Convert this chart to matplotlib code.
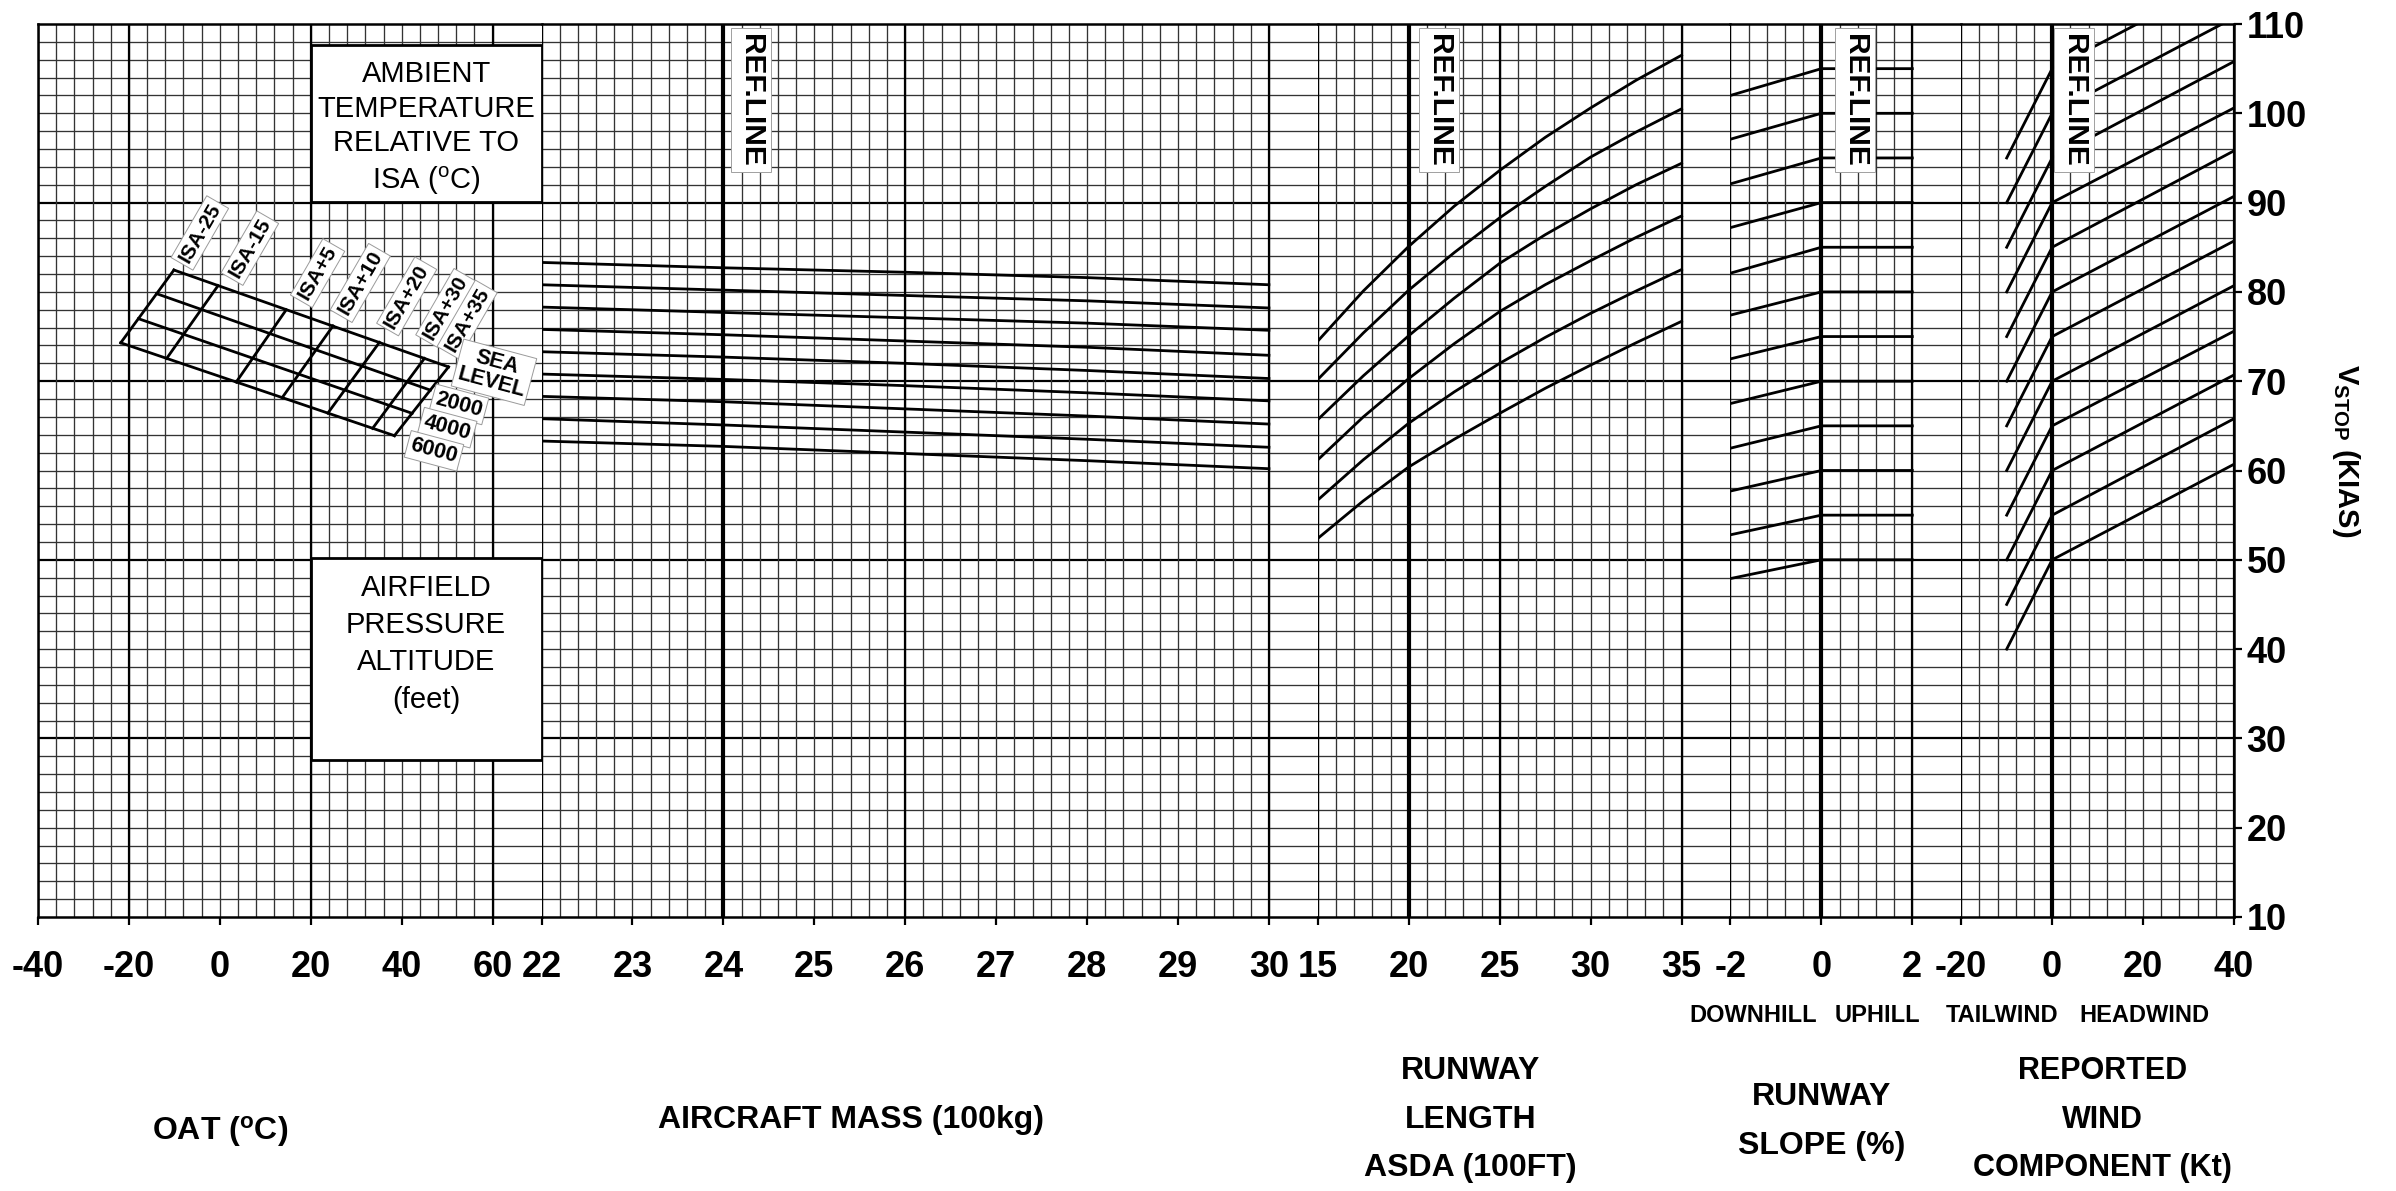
"""
V_STOP nomogram: OAT / aircraft mass / runway length / runway slope / wind
"""
import numpy as np
import matplotlib
matplotlib.use('Agg')
import matplotlib.pyplot as plt
from matplotlib.patches import Rectangle
from matplotlib import transforms

plt.rcParams['font.family'] = ['Liberation Sans', 'DejaVu Sans']
plt.rcParams['mathtext.fontset'] = 'custom'
plt.rcParams['mathtext.rm'] = 'Liberation Sans'
plt.rcParams['mathtext.bf'] = 'Liberation Sans:bold'
plt.rcParams['mathtext.it'] = 'Liberation Sans:italic'

### 数据
vstop_ticks = [10, 20, 30, 40, 50, 60, 70, 80, 90, 100, 110]
oat_ticks = [-40, -20, 0, 20, 40, 60]
mass_ticks = [22, 23, 24, 25, 26, 27, 28, 29, 30]
asda_ticks = [15, 20, 25, 30, 35]
slope_ticks = [-2, 0, 2]
wind_ticks = [-20, 0, 20, 40]

# ISA temperature lines: end on sea level line (top) and on 6000 ft line (bottom)
isa_names = ['ISA-25', 'ISA-15', 'ISA+5', 'ISA+10', 'ISA+20', 'ISA+30', 'ISA+35']
isa_oat_top = [-10.1, -0.4, 14.6, 24.9, 35.1, 45.0, 50.3]
isa_v_top = [82.45, 80.7, 78.0, 76.2, 74.35, 72.55, 71.6]
isa_oat_bot = [-21.8, -11.7, 3.6, 13.7, 23.75, 33.6, 38.4]
isa_v_bot = [74.3, 72.55, 69.9, 68.15, 66.42, 64.72, 63.9]
isa_lab_oat = [-4.4, 6.6, 21.5, 30.9, 41.1, 49.7, 54.4]
isa_lab_v = [86.6, 84.9, 82.1, 81.0, 79.5, 78.2, 76.9]

# pressure altitude lines
alt_names = ['SEA\nLEVEL', '2000', '4000', '6000']
alt_oat_cold = [-10.1, -13.9, -17.9, -21.8]
alt_v_cold = [82.45, 79.8, 77.0, 74.3]
alt_oat_hot = [50.3, 46.3, 42.3, 38.4]
alt_v_hot = [71.6, 69.0, 66.4, 63.9]
alt_lab_oat = [60.3, 52.6, 50.0, 47.1]
alt_lab_v = [71.0, 67.4, 64.8, 62.2]

# aircraft mass lines
mass_x = [22, 24, 26, 28, 30]
mass_lines = [
    [83.3, 82.7, 82.2, 81.6, 80.8],
    [80.8, 80.2, 79.6, 79.0, 78.2],
    [78.3, 77.7, 77.1, 76.5, 75.7],
    [75.8, 75.2, 74.5, 73.8, 72.9],
    [73.3, 72.7, 72.0, 71.2, 70.3],
    [70.8, 70.2, 69.5, 68.7, 67.8],
    [68.3, 67.7, 66.9, 66.1, 65.2],
    [65.8, 65.1, 64.3, 63.5, 62.6],
    [63.3, 62.7, 61.9, 61.1, 60.2],
]

# runway length (ASDA) curves
asda_x = [15, 17.5, 20, 22.5, 25, 27.5, 30, 32.5, 35]
asda_lines = [
    [74.5, 80.1, 85.1, 89.6, 93.6, 97.3, 100.6, 103.7, 106.5],
    [70.2, 75.4, 80.2, 84.4, 88.3, 91.8, 95.1, 97.9, 100.5],
    [65.7, 70.6, 75.1, 79.3, 83.2, 86.4, 89.3, 92.0, 94.4],
    [61.2, 66.0, 70.3, 74.2, 77.8, 80.8, 83.5, 86.1, 88.5],
    [56.7, 61.2, 65.3, 68.8, 72.0, 74.9, 77.6, 80.1, 82.5],
    [52.4, 56.6, 60.4, 63.5, 66.4, 69.2, 71.8, 74.3, 76.7],
]

# runway slope: value at -2 % (downhill) and at the ref line (flat uphill)
slope_ref = [105, 100, 95, 90, 85, 80, 75, 70, 65, 60, 55, 50]
slope_down = [102.0, 97.1, 92.1, 87.2, 82.1, 77.4, 72.5, 67.5, 62.5, 57.7, 52.8, 47.9]

# wind: value at 10 kt tailwind, at ref line, at 40 kt headwind
wind_ref = [105, 100, 95, 90, 85, 80, 75, 70, 65, 60, 55, 50]
wind_tail10 = [95, 90, 85, 80, 75, 70, 65, 60, 55, 50, 45, 40]
wind_head40 = [115.7, 110.7, 105.8, 100.6, 95.8, 90.7, 85.7, 80.7, 75.6, 70.7, 65.8, 60.7]

### 版面
GRID = '#333333'
GAP = 0.538      # empty strip after each panel, in major divisions
W, H = 2396, 1191

panels = [
    dict(lo=-40, hi=60, step=20, n_minor=25, heavy=[-40, -20, 20, 60], ref=None, ticks=oat_ticks),
    dict(lo=22, hi=30, step=1, n_minor=40, heavy=[22, 26, 30], ref=24, ticks=mass_ticks),
    dict(lo=15, hi=35, step=5, n_minor=20, heavy=[15, 25, 35], ref=20, ticks=asda_ticks),
    dict(lo=-2, hi=2, step=2, n_minor=10, heavy=[-2, 2], ref=0, ticks=slope_ticks),
    dict(lo=-20, hi=40, step=20, n_minor=15, heavy=[-20, 40], ref=0, ticks=wind_ticks),
]
widths = []
for k, p in enumerate(panels):
    extra = GAP if k < len(panels) - 1 else 0
    p['xmax'] = p['hi'] + extra * p['step']
    widths.append((p['xmax'] - p['lo']) / p['step'])

fig = plt.figure(figsize=(W / 100, H / 100), dpi=100)
gs = fig.add_gridspec(1, 5, width_ratios=widths, left=38 / W, right=2234 / W,
                      top=1 - 24 / H, bottom=1 - 917 / H, wspace=0)
axes = []
h_minor = [v for v in range(12, 110, 2) if v not in (30, 50, 70, 90)]
for k, p in enumerate(panels):
    ax = fig.add_subplot(gs[0, k])
    axes.append(ax)
    ax.set_xlim(p['lo'], p['xmax'])
    ax.set_ylim(10, 110)
    # grid paper
    ax.hlines(h_minor, p['lo'], p['xmax'], color=GRID, lw=0.95, zorder=1)
    ax.hlines([30, 50, 70, 90], p['lo'], p['xmax'], color='black', lw=1.6, zorder=1)
    ax.vlines(np.linspace(p['lo'], p['hi'], p['n_minor'] + 1), 10, 110, color=GRID, lw=0.95, zorder=1)
    ax.vlines(p['heavy'], 10, 110, color='black', lw=1.6, zorder=1)
    if p['ref'] is not None:
        ax.vlines([p['ref']], 10, 110, color='black', lw=3.0, zorder=2)
    for side in ['left', 'right']:
        ax.spines[side].set_visible(False)
    for side in ['top', 'bottom']:
        ax.spines[side].set_linewidth(1.8)
    ax.set_xticks(p['ticks'])
    ax.set_xticklabels([str(t) for t in p['ticks']], fontweight='bold')
    ax.tick_params(axis='x', direction='out', length=6, width=1.6, pad=18, labelsize=26)
    ax.set_yticks([])

ax_oat, ax_mass, ax_asda, ax_slope, ax_wind = axes
ax_oat.spines['left'].set_visible(True)
ax_oat.spines['left'].set_linewidth(1.8)
ax_wind.spines['right'].set_visible(True)
ax_wind.spines['right'].set_linewidth(1.8)
ax_wind.yaxis.tick_right()
ax_wind.set_yticks(vstop_ticks)
ax_wind.set_yticklabels([str(v) for v in vstop_ticks], fontweight='bold')
ax_wind.tick_params(axis='y', direction='out', length=6, width=1.6, pad=3, labelsize=26)

LW = 2.0
# ---- OAT panel: ISA / altitude grid
for i in range(len(alt_names)):
    ax_oat.plot([alt_oat_cold[i], alt_oat_hot[i]], [alt_v_cold[i], alt_v_hot[i]], color='black', lw=LW, zorder=3)
for i in range(len(isa_names)):
    ax_oat.plot([isa_oat_top[i], isa_oat_bot[i]], [isa_v_top[i], isa_v_bot[i]], color='black', lw=LW, zorder=3)
lab_box = dict(boxstyle='square,pad=0.15', fc='white', ec='#9a9a9a', lw=0.7)
for name, x, y in zip(isa_names, isa_lab_oat, isa_lab_v):
    ax_oat.text(x, y, name, rotation=60, ha='center', va='center', fontsize=15, fontweight='bold',
                bbox=lab_box, zorder=5, rotation_mode='anchor')
for name, x, y in zip(alt_names, alt_lab_oat, alt_lab_v):
    ax_oat.text(x, y, name, rotation=-15, ha='center', va='center', fontsize=15.5, fontweight='bold',
                linespacing=1.0, bbox=lab_box, zorder=5, rotation_mode='anchor', clip_on=False)

xr = ax_oat.get_xlim()[1]
ax_oat.add_patch(Rectangle((20, 90.1), xr - 20, 17.5, fc='white', ec='black', lw=2.0, zorder=4, clip_on=False))
ax_oat.text((20 + xr) / 2, 98.3, 'AMBIENT\nTEMPERATURE\nRELATIVE TO\nISA ($^{\\mathrm{o}}$C)',
            ha='center', va='center', fontsize=21, linespacing=1.29, zorder=5)
ax_oat.add_patch(Rectangle((20, 27.6), xr - 20, 22.6, fc='white', ec='black', lw=2.0, zorder=4, clip_on=False))
ax_oat.text((20 + xr) / 2, 40.6, 'AIRFIELD\nPRESSURE\nALTITUDE\n(feet)',
            ha='center', va='center', fontsize=21, linespacing=1.42, zorder=5)

# ---- mass panel
for line in mass_lines:
    ax_mass.plot(mass_x, line, color='black', lw=LW, zorder=3)

# ---- runway length panel
for line in asda_lines:
    ax_asda.plot(asda_x, line, color='black', lw=LW, zorder=3)

# ---- slope panel
for v0, vd in zip(slope_ref, slope_down):
    ax_slope.plot([-2, 0, 2], [vd, v0, v0], color='black', lw=LW, zorder=3)

# ---- wind panel
for v0, vt, vh in zip(wind_ref, wind_tail10, wind_head40):
    ax_wind.plot([-10, 0, 40], [vt, v0, vh], color='black', lw=LW, zorder=3)

# REF.LINE tags
ref_box = dict(boxstyle='square,pad=0.2', fc='white', ec='#a0a0a0', lw=0.7)
for ax, x in [(ax_mass, 24.3), (ax_asda, 21.65), (ax_slope, 0.73), (ax_wind, 4.9)]:
    ax.text(x, 101.5, 'REF.LINE', rotation=270, ha='center', va='center', fontsize=21.5,
            fontweight='bold', bbox=ref_box, zorder=5)

# axis titles under the panels
def under(ax, x, y, s, size=23, ls=1.8):
    tr = transforms.blended_transform_factory(ax.transData, ax.transAxes)
    ax.text(x, y, s, transform=tr, ha='center', va='center', fontsize=size,
            fontweight='bold', linespacing=ls, clip_on=False)

under(ax_oat, 0, -0.240, 'OAT ($^{\\mathbf{o}}$C)')
under(ax_mass, 25.4, -0.227, 'AIRCRAFT MASS (100kg)')
under(ax_asda, 23.4, -0.227, 'RUNWAY\nLENGTH\nASDA (100FT)')
under(ax_slope, 0, -0.229, 'RUNWAY\nSLOPE (%)')
under(ax_wind, 11, -0.227, 'REPORTED\nWIND\nCOMPONENT (Kt)', size=22)
under(ax_slope, -1.5, -0.110, 'DOWNHILL', size=17)
under(ax_slope, 1.23, -0.110, 'UPHILL', size=17)
under(ax_wind, -11, -0.110, 'TAILWIND', size=17)
under(ax_wind, 20.2, -0.110, 'HEADWIND', size=17)

fig.text(2346 / W, 1 - 451 / H, '$\\mathbf{V}_{\\mathbf{STOP}}$ (KIAS)', rotation=270,
         ha='center', va='center', fontsize=21, fontweight='bold')

fig.savefig('out.png', dpi=100)
plt.close()
